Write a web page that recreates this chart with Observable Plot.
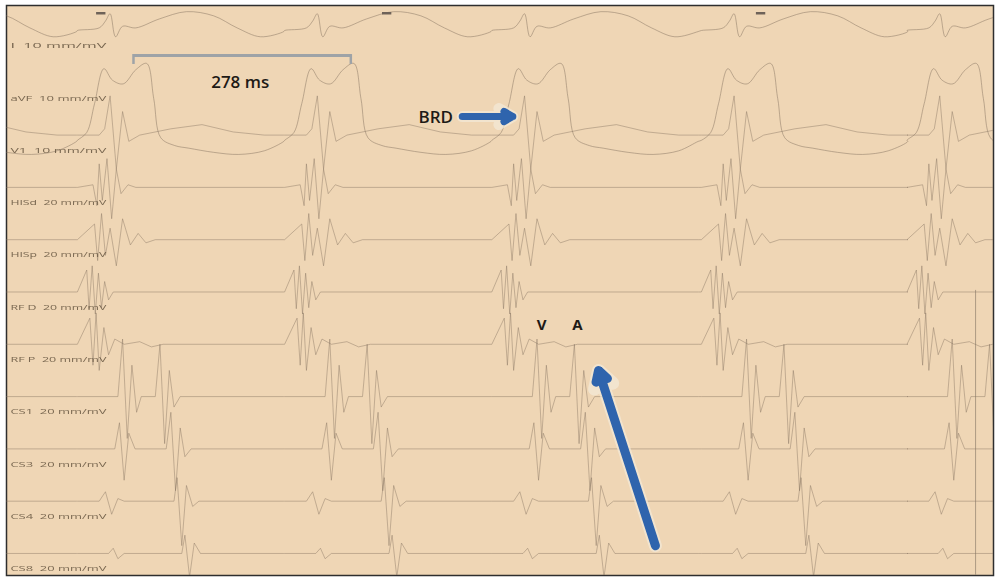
<!DOCTYPE html>
<html>
<head>
<meta charset="utf-8">
<script src="https://cdn.jsdelivr.net/npm/d3@7"></script>
<script src="https://cdn.jsdelivr.net/npm/@observablehq/plot@0.6"></script>
<style>
  html, body { margin: 0; padding: 0; background: #ffffff; }
  #chart svg { display: block; }
</style>
</head>
<body>
<div id="chart"></div>
<script>
// ---- channel names (top to bottom) ----
const channelNames = ["I", "aVF", "V1", "HISd", "HISp", "RF D", "RF P", "CS1", "CS3", "CS4", "CS8"];
const channelGains = ["10 mm/mV", "10 mm/mV", "10 mm/mV", "20 mm/mV", "20 mm/mV", "20 mm/mV", "20 mm/mV", "20 mm/mV", "20 mm/mV", "20 mm/mV", "20 mm/mV"];

// ---- beat times (ms), read from the V1 QRS positions ----
const beatTimes = [-135, 131, 397, 663, 932, 1196];

// ---- per-channel beat templates: [ms after beat, amplitude in channel units (up = +)] ----
const tplI = [[-40,0],[-12,0.05],[-4,0.18],[2,0.32],[9,-0.12],[18,0.08],[35,0.05],[65,0.22],[100,0.36],[135,0.28],[165,0.05],[195,-0.12],[225,-0.02]];
const tplAVF = [[-40,-1.1],[-28,-0.95],[-18,-0.4],[-6,0.27],[5,0.05],[19,-0.02],[35,0.25],[49,0.37],[58,-0.3],[67,-1.05],[85,-1.2],[103,-1.25],[135,-1.33],[167,-1.37],[200,-1.3],[225,-1.12]];
const tplV1 = [[-40,0],[-12,0],[-5,0.12],[2,0.75],[10,-0.65],[18,0.45],[26,-0.12],[40,0],[80,0.12],[120,0.2],[160,0.06],[200,0],[225,0]];
const tplHISd = [[-40,0],[-20,0.05],[-15,-0.35],[-12,0.45],[-8,-0.25],[-2,0.55],[4,-0.6],[10,0.35],[16,-0.12],[25,0.05],[35,0],[225,0]];
const tplHISp = [[-40,0],[-18,0.3],[-14,-0.4],[-9,0.5],[-4,-0.3],[2,0.22],[10,-0.5],[18,0.4],[28,-0.1],[38,0.12],[48,-0.06],[60,0],[225,0]];
const tplRFD = [[-40,0],[-28,0.42],[-25,-0.32],[-21,0.5],[-17,-0.42],[-13,0.36],[-9,-0.3],[-5,0.2],[0,-0.15],[6,0],[225,0]];
const tplRFP = [[-40,0],[-24,0.5],[-20,-0.4],[-16,0.6],[-12,-0.5],[-6,0.32],[0,-0.2],[8,0.1],[20,0],[40,0.05],[55,-0.05],[70,0],[225,0]];
const tplCS1 = [[-40,0],[12,0],[18,1.1],[24,-0.8],[30,0.6],[36,-0.3],[42,0],[60,0],[66,1.0],[72,-0.9],[78,0.5],[84,-0.2],[92,0],[225,0]];
const tplCS3 = [[-40,0],[8,0],[14,0.5],[20,-0.6],[26,0.3],[34,0],[74,0],[80,0.7],[86,-0.8],[92,0.4],[98,-0.15],[106,0],[225,0]];
const tplCS4 = [[-40,0],[-12,0],[-4,0.18],[4,-0.25],[12,0.05],[20,0],[84,0],[88,0.45],[94,-0.85],[100,0.3],[108,-0.1],[116,0],[225,0]];
const tplCS8 = [[-40,0],[0,0],[6,0.1],[12,-0.1],[20,0],[94,0],[98,0.35],[104,-0.45],[110,0.2],[118,0],[225,0]];
const templates = [tplI, tplAVF, tplV1, tplHISd, tplHISp, tplRFD, tplRFP, tplCS1, tplCS3, tplCS4, tplCS8];

// ---- annotations ----
const bracketX = [163, 442];       // ms, the "278 ms" caliper
const bracketText = "278 ms";
const brdArrowX = [585, 650];      // ms
const vaLabels = [{t: 687, s: "V"}, {t: 733, s: "A"}];
const bigArrow = {t1: 833, y1: 9.85, t2: 760, y2: 6.50};
const timeMarks = [121, 488, 968]; // ms
const cursorT = 1244;              // ms

// build trace rows from the tables
const traces = [];
templates.forEach((tpl, ch) => {
  beatTimes.forEach(b => {
    tpl.forEach(([dt, v]) => traces.push({ch, t: b + dt, y: ch - v}));
  });
});
const surface = traces.filter(d => d.ch < 2);
const other = traces.filter(d => d.ch >= 2);
const labels = channelNames.map((n, i) => ({i, text: n + "  " + channelGains[i]}));

const traceColor = "#857260";
const blue = "#2f64ad";

const plot = Plot.plot({
  width: 995,
  height: 577,
  marginLeft: 6, marginRight: 2, marginTop: 5, marginBottom: 2,
  x: {domain: [0, 1267], axis: null},
  y: {domain: [-0.478, 10.421], reverse: true, axis: null},
  style: {background: "#ffffff", fontFamily: "'Open Sans', 'DejaVu Sans', sans-serif"},
  marks: [
    Plot.frame({fill: "#efd6b5", stroke: "#2e2e2e", strokeWidth: 1.5}),
    Plot.ruleX([cursorT], {y1: 4.97, y2: 10.42, stroke: "#9a8a76", strokeWidth: 0.8}),
    Plot.line(surface, {x: "t", y: "y", z: "ch", curve: "catmull-rom", stroke: traceColor, strokeWidth: 0.9, strokeOpacity: 0.55, clip: true}),
    Plot.line(other, {x: "t", y: "y", z: "ch", stroke: traceColor, strokeWidth: 0.8, strokeOpacity: 0.55, clip: true}),
    Plot.link(timeMarks, {x1: d => d - 6, x2: d => d + 6, y1: -0.33, y2: -0.33, stroke: "#6e6258", strokeWidth: 2.5}),
    Plot.text(labels, {x: 5, y: d => d.i + 0.29, text: "text", textAnchor: "start", fontSize: 8, fill: "#65553f", fillOpacity: 0.85}),
    // caliper
    Plot.link([bracketX], {x1: d => d[0], x2: d => d[1], y1: 0.478, y2: 0.478, stroke: "#9ea3a7", strokeWidth: 3}),
    Plot.link(bracketX, {x1: d => d, x2: d => d, y1: 0.45, y2: 0.64, stroke: "#9ea3a7", strokeWidth: 2.5}),
    Plot.text([bracketText], {x: 300, y: 0.99, text: d => d, fontSize: 17, fill: "#1e1a16", fontWeight: 600}),
    // BRD
    Plot.text(["BRD"], {x: 551, y: 1.66, text: d => d, fontSize: 17, fill: "#1e1a16", fontWeight: 600}),
    Plot.arrow([brdArrowX], {x1: d => d[0], x2: d => d[1], y1: 1.645, y2: 1.645, stroke: "#f4ead8", strokeWidth: 11, headLength: 2.2, strokeOpacity: 0.7}),
    Plot.arrow([brdArrowX], {x1: d => d[0], x2: d => d[1], y1: 1.645, y2: 1.645, stroke: blue, strokeWidth: 7, headLength: 2.2}),
    // V / A
    Plot.text(vaLabels, {x: "t", y: 5.64, text: "s", fontSize: 15, fill: "#1e1a16", fontWeight: 700}),
    // big arrow
    Plot.arrow([bigArrow], {x1: "t1", y1: "y1", x2: "t2", y2: "y2", stroke: "#f4ead8", strokeWidth: 13, headLength: 2.2, strokeOpacity: 0.7}),
    Plot.arrow([bigArrow], {x1: "t1", y1: "y1", x2: "t2", y2: "y2", stroke: blue, strokeWidth: 9, headLength: 2.0})
  ]
});

plot.querySelectorAll('g[aria-label="line"]').forEach(g => g.style.filter = "blur(0.35px)");
const textGroups = plot.querySelectorAll('g[aria-label="text"]');
if (textGroups.length) {
  textGroups[0].querySelectorAll("text").forEach(t => {
    t.setAttribute("textLength", 96);
    t.setAttribute("lengthAdjust", "spacingAndGlyphs");
  });
  textGroups[0].style.filter = "blur(0.35px)";
}
document.getElementById("chart").appendChild(plot);
</script>
</body>
</html>
